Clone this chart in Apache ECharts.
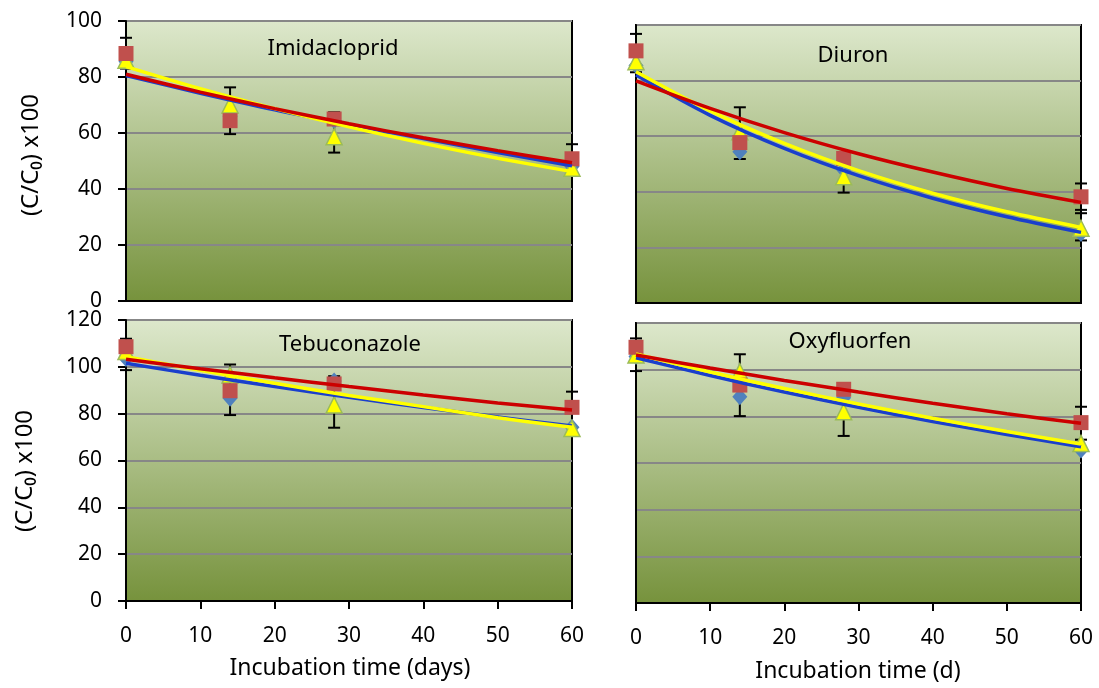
<!DOCTYPE html>
<html><head><meta charset="utf-8">
<script src="https://cdn.jsdelivr.net/npm/echarts@6/dist/echarts.min.js"></script>
<style>html,body{margin:0;padding:0;background:#fff}#c{width:1099px;height:688px}</style>
</head><body><div id="c"></div><script>
// ---- data ----
const sampleDays = [0, 14, 28, 60];
const fitDays = [0, 10, 20, 30, 40, 50, 60];
const xTicks = [0, 10, 20, 30, 40, 50, 60];

const panelTitles = ['Imidacloprid', 'Diuron', 'Tebuconazole', 'Oxyfluorfen'];
const yAxisName = '(C/C\u2080) x100';
const xAxisNames = ['Incubation time (days)', 'Incubation time (d)'];

// Imidacloprid
const imiBlue = [85.5, 66, 64.5, 48];
const imiRed = [88.4, 64.4, 65, 50.8];
const imiYellow = [86, 70, 58.7, 47.4];
const imiBlueFit = [80.5, 74.2, 68.3, 63.0, 58.0, 53.0, 48.3];
const imiRedFit = [81.0, 74.6, 68.7, 63.3, 58.3, 53.7, 49.4];
const imiYellowFit = [83.7, 75.8, 68.7, 62.2, 56.3, 51.0, 46.2];
const imiErr = [[0, 83, 94], [14, 59.6, 76.3], [28, 53, 67.4], [60, 45, 56]];

// Diuron
const diuBlue = [85.4, 54.4, 47.8, 25];
const diuRed = [90.7, 57.7, 52, 38.2];
const diuYellow = [86.8, 61.6, 45.4, 26.9];
const diuBlueFit = [82.0, 67.5, 55.6, 45.8, 37.7, 31.0, 25.4];
const diuRedFit = [79.9, 70.0, 61.3, 53.7, 47.1, 41.2, 36.2];
const diuYellowFit = [83.2, 69.1, 57.4, 47.6, 39.5, 32.8, 27.2];
const diuErr = [[0, 83, 96.8], [14, 51.8, 70.4], [28, 39.7, 52], [60, 33.5, 43], [60, 22.5, 32.3]];

// Tebuconazole
const tebBlue = [103.6, 86.6, 94, 74.2];
const tebRed = [108.6, 89.8, 92.7, 82.7];
const tebYellow = [106.5, 96.5, 83.7, 73.7];
const tebBlueFit = [101.5, 96.4, 91.6, 87.0, 82.6, 78.6, 74.7];
const tebRedFit = [103.2, 99.2, 95.3, 91.6, 88.0, 84.6, 81.6];
const tebYellowFit = [104.3, 98.5, 93.0, 87.8, 83.0, 78.3, 74.2];
const tebErr = [[0, 98.6, 112], [14, 79.4, 101], [28, 74, 96], [60, 72, 89.4]];

// Oxyfluorfen
const oxyBlue = [105.6, 88.4, 88, 65.6];
const oxyRed = [109.6, 93.4, 91.6, 77.3];
const oxyYellow = [106.3, 99.1, 82, 68.4];
const oxyBlueFit = [105.1, 97.5, 90.4, 83.9, 77.8, 72.2, 67.0];
const oxyRedFit = [106.3, 100.7, 95.4, 90.4, 85.6, 81.1, 77.0];
const oxyYellowFit = [106.7, 99.0, 91.9, 85.3, 79.2, 73.5, 68.1];
const oxyErr = [[0, 99.4, 113.4], [14, 80.1, 106.6], [28, 71.6, 94], [60, 70, 84.1]];

const yMax = [100, 100, 120, 120];

// ---- chart ----
const FONT = '"Noto Sans", "Open Sans", sans-serif';
const panels = [
  {blue: imiBlue, red: imiRed, yellow: imiYellow, bf: imiBlueFit, rf: imiRedFit, yf: imiYellowFit, err: imiErr},
  {blue: diuBlue, red: diuRed, yellow: diuYellow, bf: diuBlueFit, rf: diuRedFit, yf: diuYellowFit, err: diuErr},
  {blue: tebBlue, red: tebRed, yellow: tebYellow, bf: tebBlueFit, rf: tebRedFit, yf: tebYellowFit, err: tebErr},
  {blue: oxyBlue, red: oxyRed, yellow: oxyYellow, bf: oxyBlueFit, rf: oxyRedFit, yf: oxyYellowFit, err: oxyErr}
];
const gridBoxes = [
  {left: 126, top: 21, width: 446, height: 280},
  {left: 636, top: 25, width: 445, height: 278},
  {left: 126, top: 320, width: 446, height: 281},
  {left: 636, top: 323, width: 445, height: 280}
];
const bg = {type: 'linear', x: 0, y: 0, x2: 0, y2: 1, colorStops: [
  {offset: 0, color: '#dde8cc'}, {offset: 1, color: '#76923c'}]};

const grid = gridBoxes.map(g => Object.assign({show: true, backgroundColor: bg, borderColor: '#000', borderWidth: 2}, g));

const xAxis = gridBoxes.map((g, i) => {
  const bottom = i >= 2;
  return {
    type: 'value', gridIndex: i, min: xTicks[0], max: xTicks[xTicks.length - 1], interval: 10,
    axisLine: {show: true, onZero: false, lineStyle: {color: '#000', width: 2}},
    axisTick: {show: bottom, inside: false, length: 8, lineStyle: {color: '#000', width: 2}},
    axisLabel: {show: bottom, fontSize: 21, color: '#000', fontFamily: FONT, margin: 25},
    splitLine: {show: false}
  };
});
const yAxis = gridBoxes.map((g, i) => {
  const left = i % 2 === 0;
  return {
    type: 'value', gridIndex: i, min: 0, max: yMax[i], interval: 20,
    axisLine: {show: true, lineStyle: {color: '#000', width: 2}},
    axisTick: {show: left, inside: false, length: 8, lineStyle: {color: '#000', width: 2}},
    axisLabel: {show: left, fontSize: 21, color: '#000', fontFamily: FONT, margin: 24},
    splitLine: {show: true, lineStyle: {color: '#878787', width: 2}}
  };
});

function errRender(params, api) {
  const x = api.value(0), lo = api.value(1), hi = api.value(2);
  const a = api.coord([x, hi]), b = api.coord([x, lo]);
  const w = 6, st = {stroke: '#000', lineWidth: 2};
  return {type: 'group', children: [
    {type: 'line', shape: {x1: a[0], y1: a[1], x2: b[0], y2: b[1]}, style: st},
    {type: 'line', shape: {x1: a[0] - w, y1: a[1], x2: a[0] + w, y2: a[1]}, style: st},
    {type: 'line', shape: {x1: b[0] - w, y1: b[1], x2: b[0] + w, y2: b[1]}, style: st}
  ]};
}

const series = [];
panels.forEach((p, i) => {
  series.push({type: 'custom', xAxisIndex: i, yAxisIndex: i, renderItem: errRender, z: 2,
    encode: {x: 0, y: [1, 2]}, data: p.err, silent: true});
  series.push({type: 'scatter', xAxisIndex: i, yAxisIndex: i, z: 3, symbol: 'diamond', symbolSize: [15, 17],
    itemStyle: {color: '#4f81bd', opacity: 1}, data: sampleDays.map((t, k) => [t, p.blue[k]])});
  series.push({type: 'scatter', xAxisIndex: i, yAxisIndex: i, z: 4, symbol: 'triangle', symbolSize: 16,
    itemStyle: {color: '#ffff00', borderColor: '#9bbb59', borderWidth: 1.5, opacity: 1}, data: sampleDays.map((t, k) => [t, p.yellow[k]])});
  series.push({type: 'scatter', xAxisIndex: i, yAxisIndex: i, z: 5, symbol: 'rect', symbolSize: 15,
    itemStyle: {color: '#c0504d', opacity: 1}, data: sampleDays.map((t, k) => [t, p.red[k]])});
  [[p.bf, '#1a3fcc', 6], [p.yf, '#ffff00', 7], [p.rf, '#cc0000', 8]].forEach(([vals, col, z]) => {
    series.push({type: 'line', xAxisIndex: i, yAxisIndex: i, z: z, smooth: 0.3, showSymbol: false, symbol: 'none',
      lineStyle: {color: col, width: 3.5}, data: fitDays.map((t, k) => [t, vals[k]])});
  });
});

function txt(text, x, y, size, rot) {
  return {type: 'text', x: x, y: y, rotation: rot || 0, z: 100,
    style: {text: text, font: size + 'px ' + FONT, fill: '#000', textAlign: 'center', align: 'center',
      textVerticalAlign: 'middle', verticalAlign: 'middle'}};
}
const graphic = [
  txt(panelTitles[0], 333, 49, 22),
  txt(panelTitles[1], 853, 56, 22),
  txt(panelTitles[2], 350, 345, 22),
  txt(panelTitles[3], 850, 342, 22),
  txt(yAxisName, 31, 155, 24, Math.PI / 2),
  txt(yAxisName, 25, 471, 24, Math.PI / 2),
  txt(xAxisNames[0], 350, 668, 23),
  txt(xAxisNames[1], 858, 671, 23)
];

const chart = echarts.init(document.getElementById('c'), null, {renderer: 'canvas'});
chart.setOption({animation: false, backgroundColor: '#fff', grid, xAxis, yAxis, series, graphic});
</script></body></html>
